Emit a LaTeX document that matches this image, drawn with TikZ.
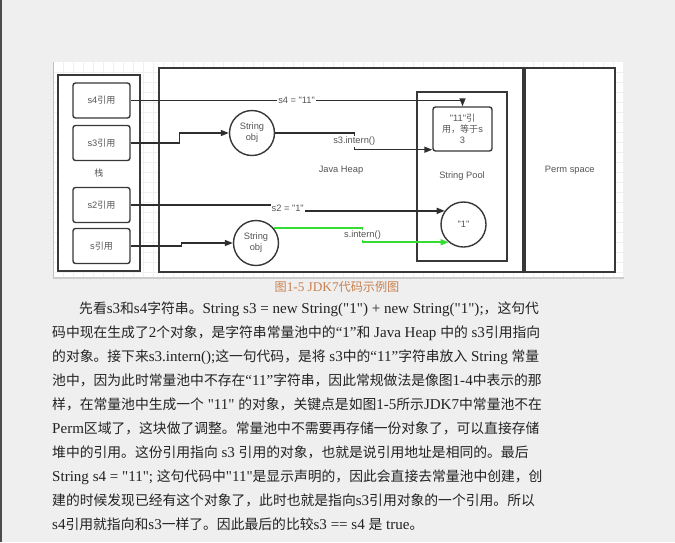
\documentclass[tikz,border=0pt]{standalone}
\usepackage{fontspec}
\setmainfont{Liberation Serif}[Ligatures=TeXOff, Scale=1.06]
\setsansfont{Liberation Sans}[Ligatures=TeXOff]
\newfontfamily\cjk{Noto Sans CJK SC}[Scale=0.972]
\usetikzlibrary{arrows.meta,calc}
\definecolor{pagebg}{HTML}{EFEFEF}
\definecolor{ink}{HTML}{222222}
\definecolor{wire}{HTML}{2E2E2E}
\definecolor{boxline}{HTML}{383838}
\definecolor{gridline}{HTML}{F0F0F0}
\definecolor{capt}{HTML}{C8804F}
\definecolor{lime}{HTML}{33DD33}
\definecolor{diagtext}{HTML}{555555}

% Chinese characters switch to the CJK family, the rest keeps the Latin one
\ifdefined\newXeTeXintercharclass
  \newXeTeXintercharclass\cjkclass
\else
  \chardef\cjkclass=7
\fi
\makeatletter
\count@="3000
\loop\ifnum\count@<"A000 \XeTeXcharclass\count@=\cjkclass\advance\count@\@ne\repeat
\count@="FF00
\loop\ifnum\count@<"FFF0 \XeTeXcharclass\count@=\cjkclass\advance\count@\@ne\repeat
\makeatother
\XeTeXcharclass"201C=0
\XeTeXcharclass"201D=0
\let\latinfam\rmfamily
\XeTeXinterchartoks 0 \cjkclass = {\cjk}
\XeTeXinterchartoks 4095 \cjkclass = {\cjk}
\XeTeXinterchartoks \cjkclass 0 = {\latinfam}
\XeTeXinterchartoks \cjkclass 4095 = {\latinfam}

\begin{document}
\XeTeXinterchartokenstate=1
\begin{tikzpicture}[x=1pt, y=-1pt,
    >={Triangle[length=8pt,width=6pt]},
    dtext/.style={font=\let\latinfam\sffamily\sffamily\fontsize{9.3}{11}\selectfont, text=diagtext},
    region/.style={dtext, draw=boxline, line width=1.8pt, fill=white, inner sep=0pt},
    refbox/.style={dtext, draw=boxline, line width=1.4pt, rounded corners=2.5pt, fill=white,
                   minimum width=57pt, minimum height=35pt, inner sep=0pt, align=center},
    strobj/.style={dtext, draw=boxline, line width=1.4pt, circle, fill=white,
                   minimum size=45pt, inner sep=0pt, align=center},
    link/.style={draw=wire, line width=1.4pt, ->},
    internlink/.style={draw=lime, line width=1.6pt, ->},
    lbl/.style={dtext, fill=white, inner sep=1pt},
    body/.style={font=\fontsize{14.2}{17}\selectfont, text=ink, inner sep=0pt, anchor=base west}]
  % page: 675 x 542 px
  \path[use as bounding box] (0,0) rectangle (675,542);
  \fill[pagebg] (0,0) rectangle (675,542);
  \draw[black!70, line width=1.5pt] (0.75,0) -- (0.75,542);

  % ---------- figure panel ----------
  \fill[white] (53,62) rectangle (624,277);
  \foreach \gx in {63,73,...,623}
    \draw[gridline, line width=0.5pt] (\gx,62) -- (\gx,277);
  \foreach \gy in {72,82,...,272}
    \draw[gridline, line width=0.5pt] (53,\gy) -- (624,\gy);
  \draw[black!25, line width=0.8pt] (53,62) -- (53,277);
  \draw[black!20, line width=1.5pt] (53,278) -- (624,278);

  % stack with the references
  \node[region, minimum width=82pt, minimum height=196pt] (stack) at (99,173) {栈};
  \node[refbox] (s4ref) at (101.5,100.5) {s4引用};
  \node[refbox] (s3ref) at (101.5,143) {s3引用};
  \node[refbox] (s2ref) at (101.5,205) {s2引用};
  \node[refbox] (sref) at (101.5,246) {s引用};

  % heap, string pool, perm space
  \node[region, minimum width=364pt, minimum height=204pt] (heap) at (341,170) {Java Heap};
  \node[region, minimum width=90pt, minimum height=204pt, anchor=west] (perm) at (heap.east) {Perm space};
  \node[region, minimum width=90pt, minimum height=169pt] (pool) at (462,176.5) {String Pool};
  \node[refbox, minimum width=59pt, minimum height=44pt] (elev) at (462.5,129) {"11"引\\用，等于s\\3};
  \node[strobj] (str1) at (252,133) {String\\obj};
  \node[strobj] (str2) at (256,243) {String\\obj};
  \node[strobj] (one) at (463.5,224.5) {"1"};

  % references
  \draw[link] (s4ref.east) -| (elev.north) node[lbl, pos=.25] {s4 = "11"};
  \draw[link] (s3ref.east) -- ++(49,0) |- (str1);
  \draw[link] (str1.east) -- ++(79,0) |- ($(elev.south west)+(0,-2)$) node[lbl, pos=.25] {s3.intern()};
  \draw[link] (s2ref.east) -- ++(157,0) |- (one.144) node[lbl, pos=.25] {s2 = "1"};
  \draw[link] (sref.east) -- ++(51,0) |- (str2);
  \draw[internlink] (str2.41) -- ++(89,0) |- (one.230) node[lbl, pos=.25] {s.intern()};

  % ---------- caption and text ----------
  \node[font=\fontsize{12.5}{14}\selectfont, text=capt] (caption) at (337,287) {图1-5 JDK7代码示例图};
  \node[body] (l1) at (79,313) {先看s3和s4字符串。String s3 = new String("1") + new String("1");，这句代};
  \node[body] (l2) at (52,337.1) {码中现在生成了2个对象，是字符串常量池中的“1”和 Java Heap 中的 s3引用指向};
  \node[body] (l3) at (52,361.2) {的对象。接下来s3.intern();这一句代码，是将 s3中的“11”字符串放入 String 常量};
  \node[body] (l4) at (52,385.3) {池中，因为此时常量池中不存在“11”字符串，因此常规做法是像图1-4中表示的那};
  \node[body] (l5) at (52,409.4) {样，在常量池中生成一个 "11" 的对象，关键点是如图1-5所示JDK7中常量池不在};
  \node[body] (l6) at (52,433.5) {Perm区域了，这块做了调整。常量池中不需要再存储一份对象了，可以直接存储};
  \node[body] (l7) at (52,457.6) {堆中的引用。这份引用指向 s3 引用的对象，也就是说引用地址是相同的。最后};
  \node[body] (l8) at (52,481.7) {String s4 = "11"; 这句代码中"11"是显示声明的，因此会直接去常量池中创建，创};
  \node[body] (l9) at (52,505.8) {建的时候发现已经有这个对象了，此时也就是指向s3引用对象的一个引用。所以};
  \node[body] (l10) at (52,529.9) {s4引用就指向和s3一样了。因此最后的比较s3 == s4 是 true。};
\end{tikzpicture}
\end{document}
